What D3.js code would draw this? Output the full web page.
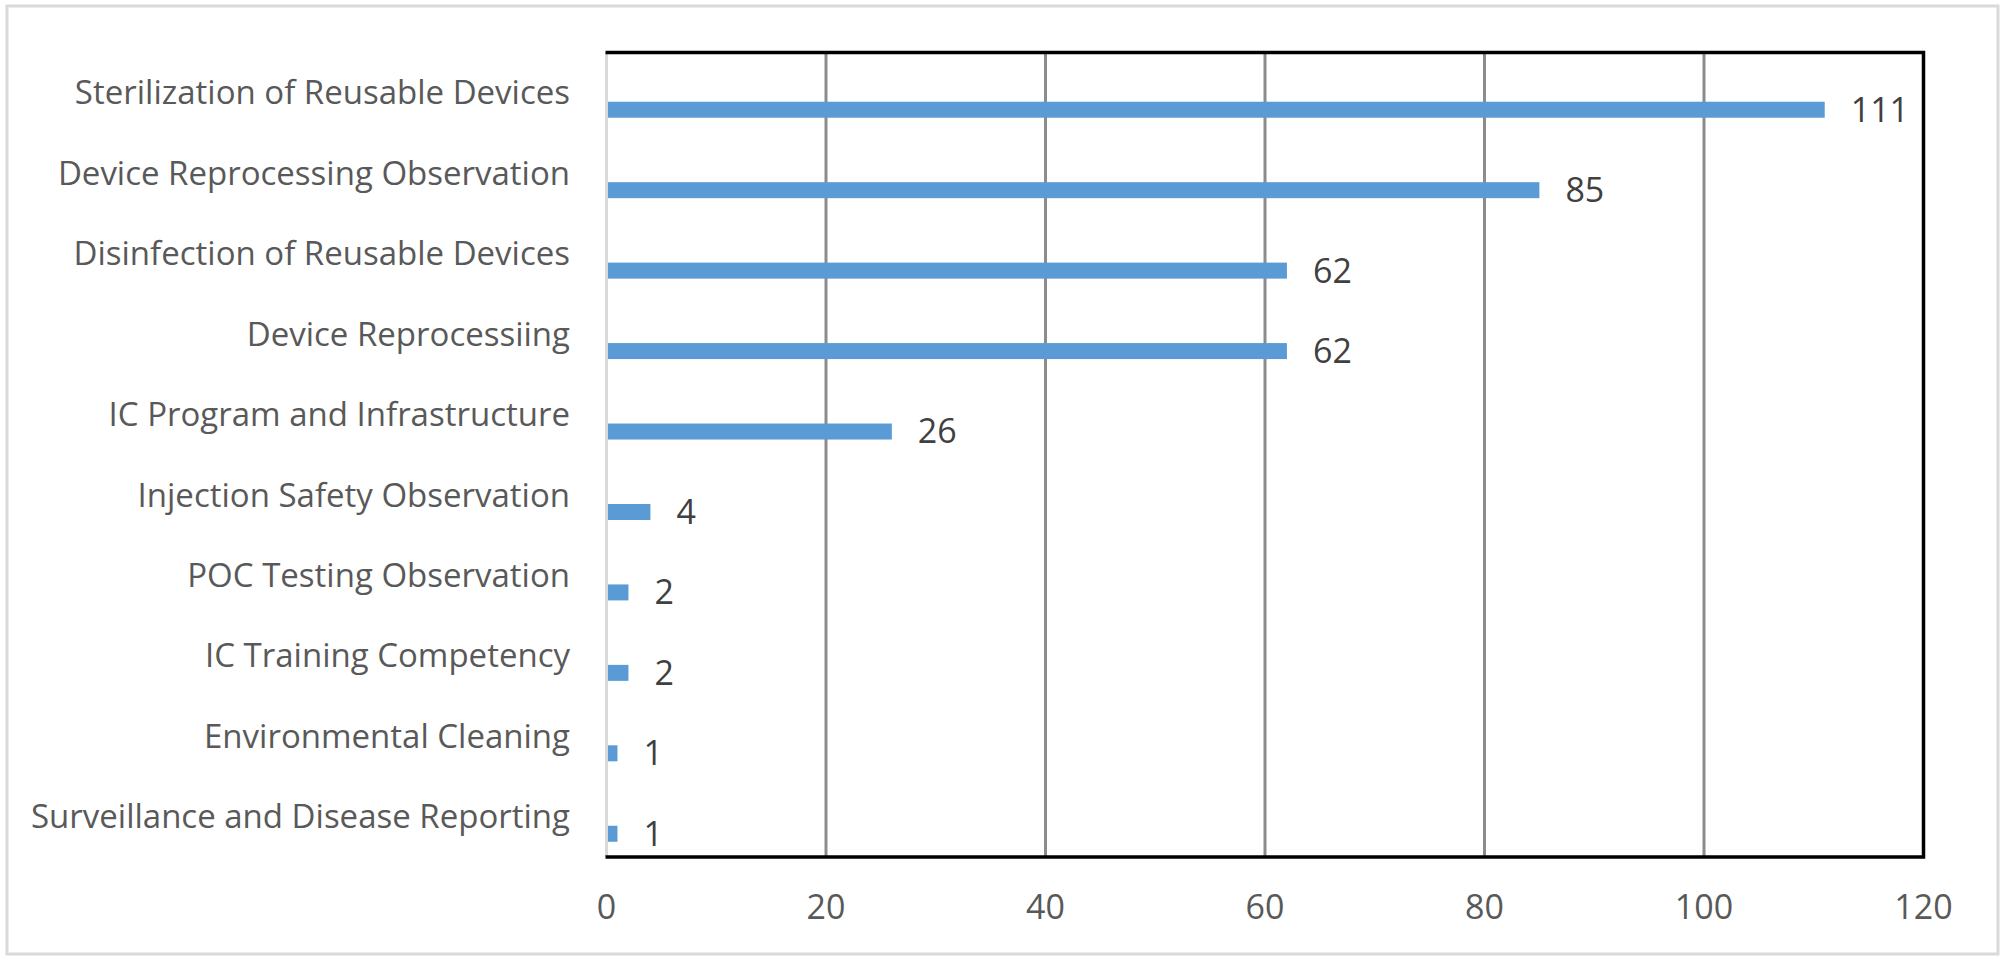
<!DOCTYPE html>
<html><head><meta charset="utf-8">
<script src="https://cdn.jsdelivr.net/npm/d3@7"></script>
<style>body{margin:0;background:#fff;}svg{display:block;}</style>
</head><body>
<svg id="chart" width="2006" height="964"></svg>
<script>
const categories = ["Sterilization of Reusable Devices","Device Reprocessing Observation","Disinfection of Reusable Devices","Device Reprocessiing","IC Program and Infrastructure","Injection Safety Observation","POC Testing Observation","IC Training Competency","Environmental Cleaning","Surveillance and Disease Reporting"];
const values = [111,85,62,62,26,4,2,2,1,1];
const xTicks = [0,20,40,60,80,100,120];

(function(){
const svg = d3.select("#chart");
const pL = 606.5, pR = 1923.5, pT = 52.5, pB = 857;
const font = "'Open Sans', sans-serif";

svg.append("rect").attr("x",7).attr("y",6).attr("width",1991).attr("height",948)
  .attr("fill","#fff").attr("stroke","#d9d9d9").attr("stroke-width",3);

const x = d3.scaleLinear().domain([0,120]).range([pL,pR]);
const y = d3.scaleBand().domain(categories).range([pT,pB]);

svg.append("g").selectAll("line").data(xTicks.filter(t=>t>0 && t<120)).join("line")
  .attr("x1",d=>x(d)).attr("x2",d=>x(d)).attr("y1",pT).attr("y2",pB)
  .attr("stroke","#8c8c8c").attr("stroke-width",3);

svg.append("line").attr("x1",pL).attr("x2",pL).attr("y1",pT).attr("y2",pB)
  .attr("stroke","#d9d9d9").attr("stroke-width",3);

svg.append("g").selectAll("rect").data(values).join("rect")
  .attr("x",x(0)+1.5)
  .attr("y",(d,i)=>y(categories[i]) + y.bandwidth()/2 + 9)
  .attr("width",d=>x(d)-x(0)-1.5)
  .attr("height",16)
  .attr("fill","#5b9bd5");

svg.append("g").selectAll("text").data(values).join("text")
  .attr("x",d=>x(d)+26)
  .attr("y",(d,i)=>y(categories[i]) + y.bandwidth()/2 + 17)
  .attr("dy","0.35em")
  .attr("font-family",font).attr("font-size",34)
  .attr("fill","#404040")
  .text(d=>d);

svg.append("g").selectAll("text").data(categories).join("text")
  .attr("x",570)
  .attr("y",d=>y(d)+y.bandwidth()/2)
  .attr("dy","0.35em")
  .attr("text-anchor","end")
  .attr("font-family",font).attr("font-size",33)
  .attr("fill","#595959")
  .text(d=>d);

svg.append("g").selectAll("text").data(xTicks).join("text")
  .attr("x",d=>x(d)).attr("y",919)
  .attr("text-anchor","middle")
  .attr("font-family",font).attr("font-size",34)
  .attr("fill","#595959")
  .text(d=>d);

const p = d3.path();
p.moveTo(pL-1, pT); p.lineTo(pR, pT); p.lineTo(pR, pB); p.lineTo(pL-1, pB);
svg.append("path").attr("d",p.toString()).attr("fill","none").attr("stroke","#000").attr("stroke-width",3.5);
})();
</script>
</body></html>
